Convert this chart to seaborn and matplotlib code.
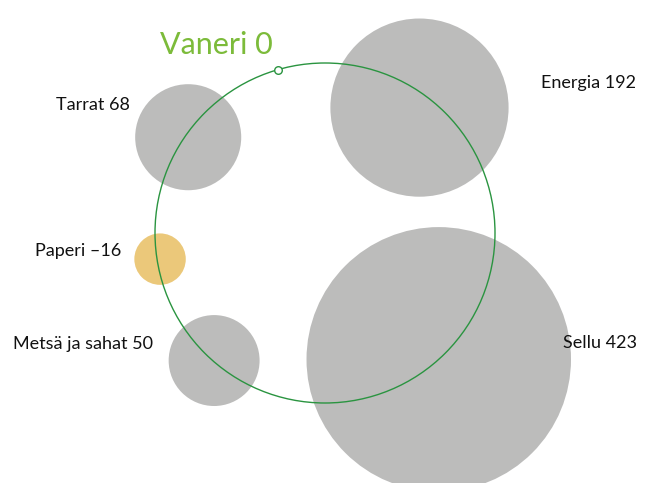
import matplotlib
matplotlib.use("Agg")
import matplotlib.pyplot as plt
from matplotlib.patches import Circle
import numpy as np
import pandas as pd
import seaborn as sns

# Data
names = ["Tarrat", "Energia", "Paperi", "Metsä ja sahat", "Sellu"]
values = [68, 192, -16, 50, 423]
angles_deg = [145, 53, 189, 229, 312]   # position around the ring
ring_dist = [167, 157, 167, 169, 170]
center_name = "Vaneri"
center_value = 0
center_angle = 106

GREY = "#bcbcbb"
GOLD = "#ebc87a"
RING_GREEN = "#2a9440"
TITLE_GREEN = "#7cbb3a"

W, H, DPI = 668, 483, 100
CX, CY, RING_R = 325, 233, 170
PX_PER_SQRT = 6.43
PT = 72 / DPI

sns.set_theme(style="white")
plt.rcParams["font.family"] = ["Lato", "DejaVu Sans"]

fig = plt.figure(figsize=(W / DPI, H / DPI), dpi=DPI)
ax = fig.add_axes([0, 0, 1, 1])
ax.set_xlim(0, W)
ax.set_ylim(H, 0)
ax.set_aspect("equal")
ax.axis("off")

a = np.radians(angles_deg)
df = pd.DataFrame({
    "name": names,
    "value": values,
    "x": CX + np.array(ring_dist) * np.cos(a),
    "y": CY - np.array(ring_dist) * np.sin(a),
})
df["r"] = PX_PER_SQRT * np.sqrt(np.abs(df["value"]))
df["s"] = (2 * df["r"] * PT) ** 2
palette = {n: (GOLD if v < 0 else GREY) for n, v in zip(names, values)}

sns.scatterplot(data=df, x="x", y="y", hue="name", palette=palette,
                s=df["s"].values, linewidth=0, alpha=1, legend=False, ax=ax,
                zorder=2)

ax.add_patch(Circle((CX, CY), RING_R, fill=False, edgecolor=RING_GREEN,
                    linewidth=1.0, zorder=3))

ca = np.radians(center_angle)
dot = pd.DataFrame({"x": [CX + RING_R * np.cos(ca)],
                    "y": [CY - RING_R * np.sin(ca)]})
sns.scatterplot(data=dot, x="x", y="y", s=30, color="white",
                edgecolor=RING_GREEN, linewidth=1.0, legend=False, ax=ax,
                zorder=4)

# Labels
label_pos = {
    "Tarrat": (130, 105, "right"),
    "Energia": (541, 83, "left"),
    "Paperi": (121, 251, "right"),
    "Metsä ja sahat": (153, 344, "right"),
    "Sellu": (563, 343, "left"),
}
for n, v in zip(names, values):
    lx, ly, ha = label_pos[n]
    txt = f"{n} {v}" if v >= 0 else f"{n} \u2013{abs(v)}"
    ax.text(lx, ly, txt, ha=ha, va="center", fontsize=13, color="#111111")

ax.text(160, 45, f"{center_name} {center_value}", ha="left", va="center",
        fontsize=22, color=TITLE_GREEN)

fig.savefig("out.png", dpi=DPI)
